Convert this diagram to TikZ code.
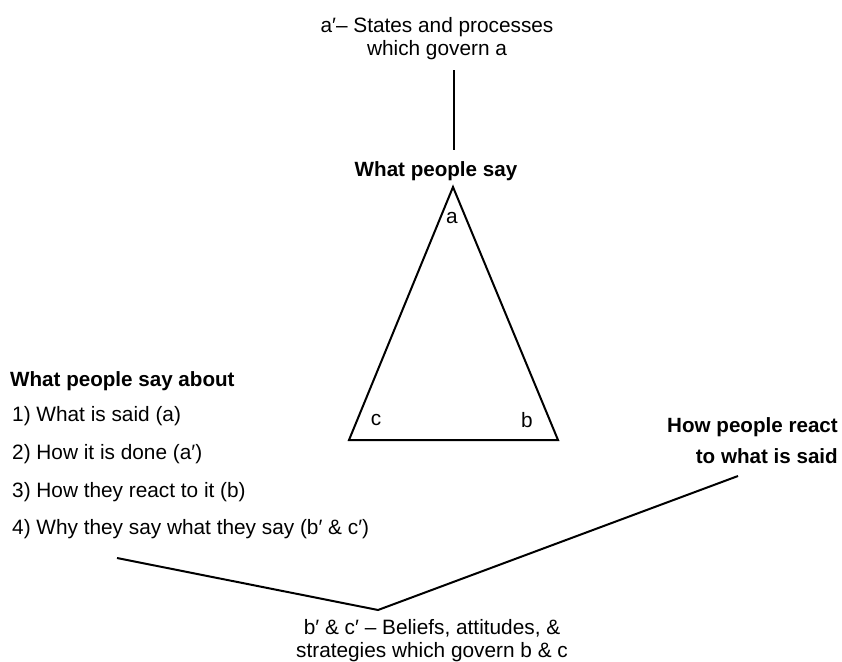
\documentclass[tikz,border=0pt]{standalone}
\usepackage{fontspec}
\setmainfont{Liberation Sans}
\begin{document}
\begin{tikzpicture}[x=1pt,y=-1pt,
  txt/.style={font=\fontsize{20.8}{23}\selectfont, inner sep=0pt, align=center},
  bld/.style={font=\fontsize{20.6}{23}\selectfont\bfseries, inner sep=0pt},
  lbl/.style={font=\fontsize{20.8}{23}\selectfont, inner sep=0pt},
  item/.style={font=\fontsize{20.8}{23}\selectfont, inner sep=0pt, anchor=west},
  ln/.style={line width=2pt, line join=miter}]
\useasboundingbox (0,0) rectangle (842,661);

% top text and vertical connector
\node[txt] (top) at (437,39) {a′– States and processes\\which govern a};
\node[bld, anchor=base] (say) at (436,176) {What people say};
\coordinate (vt) at (454,70);
\coordinate (vb) at (454,150);
\draw[line width=2.5pt] (vt) -- (vb);

% triangle
\coordinate (A) at (453,187);
\coordinate (C) at (349,440);
\coordinate (B) at (558,440);
\draw[ln] (A) -- (B) -- (C) -- cycle;
\node[lbl] (la) at (452,218) {a};
\node[lbl] (lc) at (376,420) {c};
\node[lbl] (lb) at (527,420) {b};

% left list
\node[bld, anchor=west] (hdr) at (10,381) {What people say about};
\node[item] (i1) at (12,416) {1) What is said (a)};
\node[item] (i2) at (12,454) {2) How it is done (a′)};
\node[item] (i3) at (12,492) {3) How they react to it (b)};
\node[item] (i4) at (12,529) {4) Why they say what they say (b′ \& c′)};

% right text
\node[bld, anchor=east] (r1) at (838,427) {How people react};
\node[bld, anchor=east] (r2) at (838,456) {to what is said};

% bottom V
\coordinate (L) at (117,558);
\coordinate (V) at (378,610);
\coordinate (R) at (738,476);
\draw[ln] (L) -- (V) -- (R);

\node[txt] (bot) at (432,641) {b′ \& c′ – Beliefs, attitudes, \&\\strategies which govern b \& c};
\end{tikzpicture}
\end{document}
